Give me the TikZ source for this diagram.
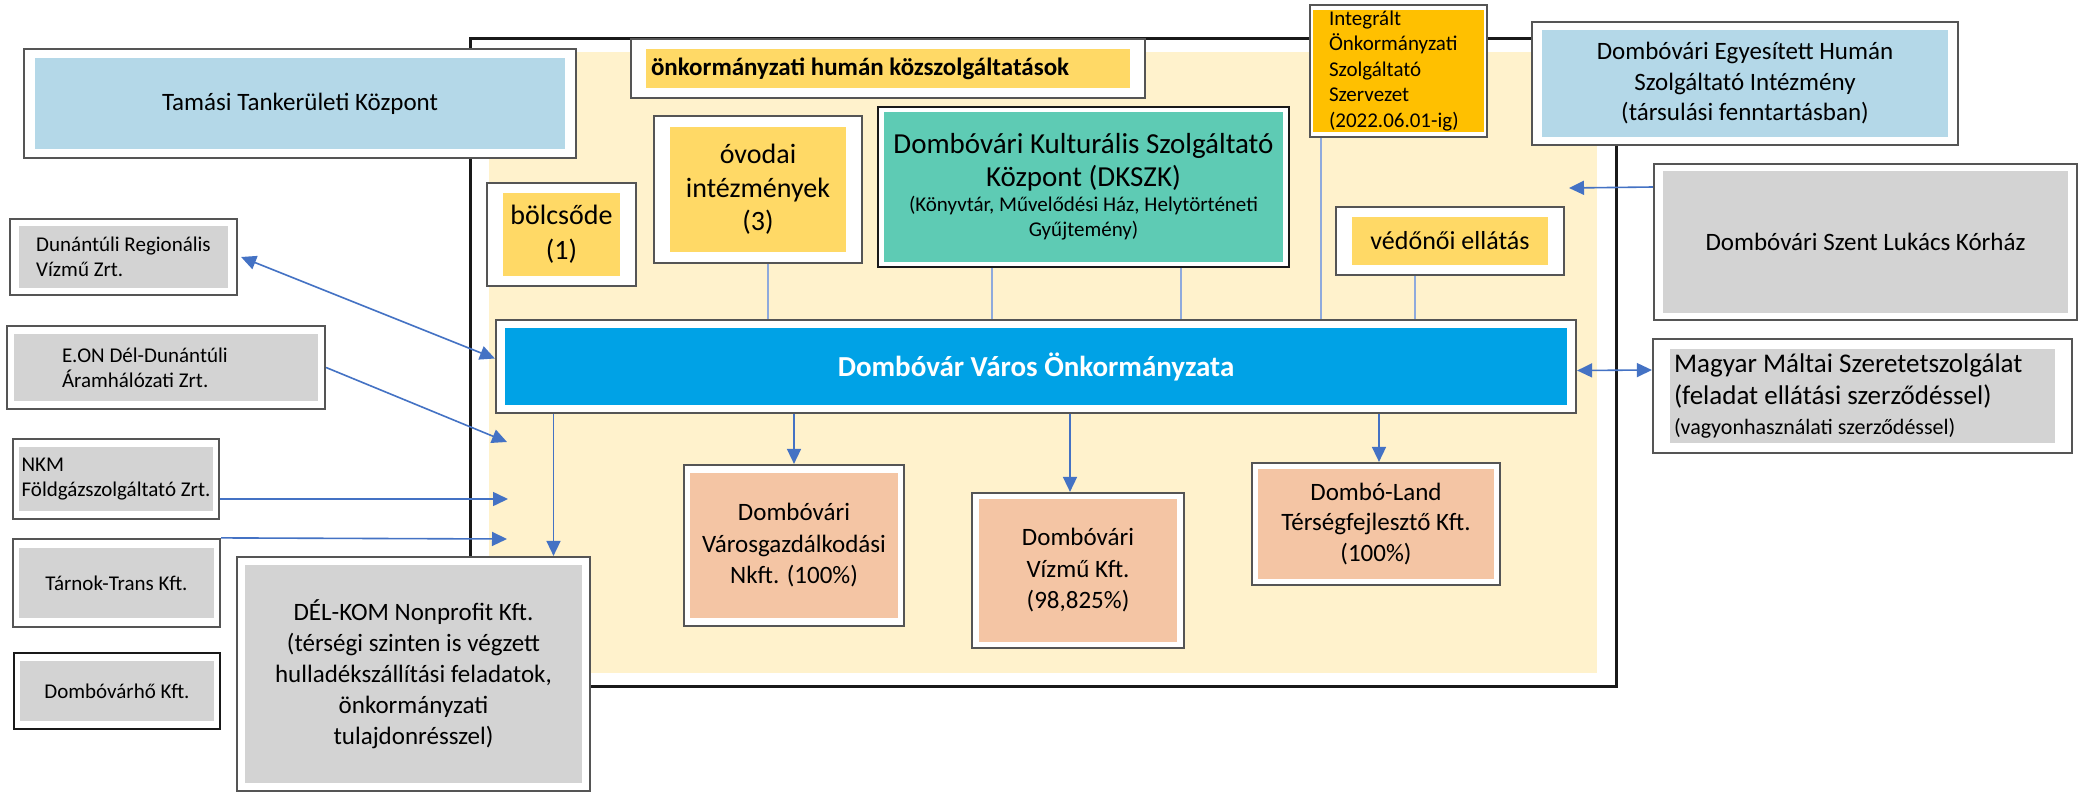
\documentclass[tikz,border=0pt]{standalone}
\usepackage{fontspec}
\setmainfont{Carlito}
\usetikzlibrary{arrows.meta,calc}
\definecolor{cream}{HTML}{FFF2CC}
\definecolor{yel}{HTML}{FFD966}
\definecolor{gold}{HTML}{FFC000}
\definecolor{lblue}{HTML}{B4D8E8}
\definecolor{tealb}{HTML}{5ECBB4}
\definecolor{barblue}{HTML}{00A2E6}
\definecolor{greyb}{HTML}{D3D3D3}
\definecolor{peach}{HTML}{F4C5A4}
\definecolor{arrblue}{HTML}{4472C4}
\definecolor{lineblue}{HTML}{8FAADC}
\definecolor{bordc}{HTML}{555555}
\tikzset{
 box/.style n args={3}{draw=bordc, line width=2.2pt, fill=white, inner sep=0pt, text=black,
   path picture={\fill[#1] ([shift={(#2,-#3)}]path picture bounding box.north west) rectangle ([shift={(-#2,#3)}]path picture bounding box.south east);}},
 fs/.style 2 args={font=\fontsize{#1}{#2}\selectfont},
 arr/.style={draw=arrblue, line width=1.6pt, -{Triangle[length=15pt,width=14pt]}},
 arrtwo/.style={draw=arrblue, line width=1.6pt, {Triangle[length=15pt,width=14pt]}-{Triangle[length=15pt,width=14pt]}},
 conn/.style={draw=lineblue, line width=1.4pt},
}
\begin{document}
\begin{tikzpicture}[x=1pt,y=-1pt]
\useasboundingbox (0,0) rectangle (2085,792);
\fill[white] (0,0) rectangle (2085,792);
% frame
\node[box={cream}{19pt}{13pt}, draw=black!90, line width=3pt, minimum width=1146pt, minimum height=647pt] (frame) at (1043,362.5) {};
% top boxes
\node[box={lblue}{11pt}{9pt}, minimum width=552pt, minimum height=109pt, fs={25}{30}] (tamasi) at (300,103.5) {Tamási Tankerületi Központ};
\node[box={yel}{15pt}{10pt}, minimum width=514pt, minimum height=59pt, text width=474pt, align=flush left, font=\bfseries\fontsize{25}{30}\selectfont] (onk) at (888,68.5) {önkormányzati humán közszolgáltatások};
\node[box={yel}{16pt}{10pt}, minimum width=149pt, minimum height=103pt, align=center, fs={28}{35}] (bolc) at (561.5,234.5) {bölcsőde\\(1)};
\node[box={yel}{16pt}{11pt}, minimum width=208pt, minimum height=147pt, align=center, fs={28}{33.5}] (ovo) at (758,189.5) {óvodai\\intézmények\\(3)};
\node[box={tealb}{6pt}{5pt}, draw=black!90, line width=1.6pt, minimum width=411pt, minimum height=160pt, text width=405pt, align=flush center, fs={29}{33}] (dkszk) at (1083.5,187) {Dombóvári Kulturális Szolgáltató\\Központ (DKSZK)\par{\fontsize{21}{25}\selectfont (Könyvtár, Művelődési Ház, Helytörténeti\\Gyűjtemény)\par}};
\node[box={gold}{3pt}{5pt}, minimum width=177pt, minimum height=132pt, text width=139pt, align=flush left, fs={21}{25.5}] (integ) at (1398.5,71) {Integrált\\Önkormányzati\\Szolgáltató\\Szervezet\\(2022.06.01-ig)};
\node[box={lblue}{10pt}{8pt}, minimum width=426pt, minimum height=123pt, align=center, fs={25}{30.5}] (egyes) at (1745,83.5) {Dombóvári Egyesített Humán\\Szolgáltató Intézmény\\(társulási fenntartásban)};
\node[box={greyb}{9pt}{7pt}, minimum width=423pt, minimum height=156pt, fs={25}{30}] (korhaz) at (1865.5,242) {Dombóvári Szent Lukács Kórház};
\node[box={yel}{16pt}{10pt}, minimum width=228pt, minimum height=68pt, fs={26}{30}] (vedo) at (1450,241) {védőnői ellátás};
% main bar
\node[box={barblue}{9pt}{8pt}, minimum width=1080pt, minimum height=93pt, text=white, font=\bfseries\fontsize{29}{34}\selectfont] (bar) at (1036,366.5) {Dombóvár Város Önkormányzata};
% companies
\node[box={peach}{6pt}{8pt}, minimum width=220pt, minimum height=161pt, align=center, fs={25}{31.5}] (varos) at (794,545.5) {Dombóvári\\Városgazdálkodási\\Nkft. (100\%)};
\node[box={peach}{7pt}{6pt}, minimum width=212pt, minimum height=155pt, align=center, fs={25}{31.5}] (vizmu) at (1078,570.5) {Dombóvári\\Vízmű Kft.\\(98,825\%)};
\node[box={peach}{6pt}{6pt}, minimum width=248pt, minimum height=122pt, align=center, fs={25}{30.5}] (land) at (1376,524) {Dombó-Land\\Térségfejlesztő Kft.\\(100\%)};
% left boxes
\node[box={greyb}{9pt}{7pt}, minimum width=227pt, minimum height=76pt, align=left, fs={21}{25}] (dunan) at (123.5,257) {Dunántúli Regionális\\Vízmű Zrt.};
\node[box={greyb}{7pt}{8pt}, minimum width=318pt, minimum height=83pt, text width=208pt, align=flush left, fs={21}{25}] (eon) at (166,367.5) {E.ON Dél-Dunántúli\\Áramhálózati Zrt.};
\node[box={greyb}{6pt}{8pt}, minimum width=206pt, minimum height=80pt, align=left, fs={21}{25}] (nkm) at (116,479) {NKM\\Földgázszolgáltató Zrt.};
\node[box={greyb}{6pt}{9pt}, minimum width=207pt, minimum height=88pt, fs={21}{25}] (tarnok) at (116.5,583) {Tárnok-Trans Kft.};
\node[box={greyb}{6pt}{8pt}, draw=black!90, minimum width=206pt, minimum height=76pt, fs={21}{25}] (dho) at (117,691) {Dombóvárhő Kft.};
\node[box={greyb}{8pt}{8pt}, minimum width=353pt, minimum height=234pt, align=center, fs={25}{31}] (delkom) at (413.5,674) {DÉL-KOM Nonprofit Kft.\\(térségi szinten is végzett\\hulladékszállítási feladatok,\\önkormányzati\\tulajdonrésszel)};
\node[box={greyb}{17pt}{10pt}, minimum width=419pt, minimum height=114pt, text width=377pt, align=flush left, fs={27}{32}] (maltai) at (1862.5,396) {Magyar Máltai Szeretetszolgálat\\(feladat ellátási szerződéssel)\par{\fontsize{22}{30}\selectfont (vagyonhasználati szerződéssel)\par}};
% free arrow ends
\coordinate (eonT) at (507,442);
\coordinate (nkmT) at (508,499);
\coordinate (tarT) at (507,539);
\coordinate (korT) at (1569,188);
% thin connectors
\draw[conn] ([xshift=10pt]ovo.south) -- ([xshift=10pt]ovo.south |- bar.north);
\draw[conn] ([xshift=-91.5pt]dkszk.south) -- ([xshift=-91.5pt]dkszk.south |- bar.north);
\draw[conn] ([xshift=97.5pt]dkszk.south) -- ([xshift=97.5pt]dkszk.south |- bar.north);
\draw[conn] ([xshift=-77.5pt]integ.south) -- ([xshift=-77.5pt]integ.south |- bar.north);
\draw[conn] ([xshift=-35pt]vedo.south) -- ([xshift=-35pt]vedo.south |- bar.north);
% arrows
\draw[arr] (varos.north |- bar.south) -- (varos.north);
\draw[arr] ([xshift=-8pt]vizmu.north |- bar.south) -- ([xshift=-8pt]vizmu.north);
\draw[arr] ([xshift=3pt]land.north |- bar.south) -- ([xshift=3pt]land.north);
\draw[arr] ([xshift=140pt]delkom.north |- bar.south) -- ([xshift=140pt]delkom.north);
\draw[arrtwo] ([xshift=3pt]dunan.east) -- ([yshift=8pt]bar.west);
\draw[arr] (eon.east) -- (eonT);
\draw[arr] ([yshift=-20pt]nkm.east) -- (nkmT);
\draw[arr] (tarnok.north east) -- (tarT);
\draw[arr] ([yshift=55pt]korhaz.west) -- (korT);
\draw[arrtwo] ([yshift=-4pt]bar.east) -- ([yshift=26pt]maltai.west);
\end{tikzpicture}
\end{document}
